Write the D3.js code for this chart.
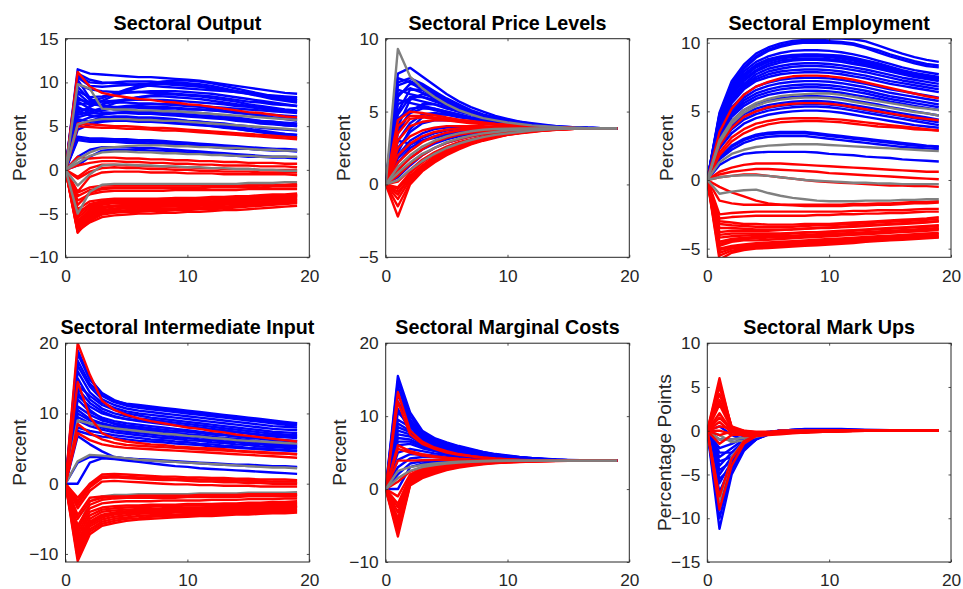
<!DOCTYPE html>
<html><head><meta charset="utf-8">
<script src="https://cdn.jsdelivr.net/npm/d3@7"></script>
<style>body{margin:0;background:#fff}svg{display:block}</style>
</head><body><svg id="c" width="963" height="589"></svg>
<script>
const periods = [0,1,2,3,4,5,6,7,8,9,10,11,12,13,14,15,16,17,18,19];
const xTicks = [0,10,20];
const titles = ["Sectoral Output","Sectoral Price Levels","Sectoral Employment","Sectoral Intermediate Input","Sectoral Marginal Costs","Sectoral Mark Ups"];
const yLabels = ["Percent","Percent","Percent","Percent","Percent","Percentage Points"];
const yDomains = [[-10,15],[-5,10],[-5.63,10.29],[-11.15,20],[-10,20],[-15,10]];
const yTicks = [[-10,-5,0,5,10,15],[-5,0,5,10],[-5,0,5,10],[-10,0,10,20],[-10,0,10,20],[-15,-10,-5,0,5,10]];

// ---------- Sectoral Output ----------
const outputBlue = [
[0,11.5,11.0,10.9,10.8,10.7,10.6,10.6,10.5,10.4,10.3,10.2,10.0,9.8,9.6,9.4,9.2,9.0,8.8,8.7],
[0,11.0,10.3,10.0,9.9,9.8,9.7,9.6,9.5,9.4,9.3,9.2,9.1,9.0,8.9,8.8,8.6,8.5,8.4,8.3],
[0,10.8,10.0,9.9,10.0,10.1,10.1,10.1,10.0,9.9,9.8,9.6,9.4,9.2,9.0,8.8,8.6,8.4,8.3,8.2],
[0,8.0,7.8,8.2,8.7,9.2,9.6,9.9,10.1,10.2,10.2,10.1,9.9,9.6,9.3,9.0,8.7,8.4,8.2,8.0],
[0,6.5,7.2,7.9,8.5,9.0,9.4,9.7,9.9,10.0,9.9,9.8,9.6,9.3,9.0,8.7,8.4,8.1,7.9,7.7],
[0,9.8,9.2,9.0,8.9,8.9,8.9,8.8,8.8,8.7,8.6,8.5,8.4,8.2,8.0,7.8,7.7,7.5,7.4,7.3],
[0,9.0,8.3,8.4,8.6,8.8,8.9,9.0,9.0,9.0,8.9,8.8,8.7,8.5,8.3,8.1,7.9,7.7,7.5,7.3],
[0,8.3,7.4,7.5,7.8,8.1,8.3,8.4,8.4,8.3,8.2,8.1,7.9,7.7,7.5,7.3,7.1,6.9,6.8,6.7],
[0,6.3,6.6,7.1,7.6,8.0,8.3,8.5,8.6,8.6,8.5,8.4,8.2,8.0,7.8,7.5,7.3,7.1,6.9,6.8],
[0,7.5,7.6,7.8,7.9,8.0,8.0,8.0,8.0,7.9,7.8,7.7,7.6,7.5,7.3,7.2,7.0,6.9,6.8,6.7],
[0,8.8,7.6,7.3,7.2,7.2,7.1,7.1,7.0,7.0,6.9,6.9,6.8,6.7,6.6,6.5,6.4,6.3,6.2,6.1],
[0,7.0,6.8,6.9,7.0,7.1,7.2,7.2,7.2,7.1,7.0,6.9,6.8,6.7,6.5,6.4,6.2,6.0,5.9,5.8],
[0,6.0,6.4,6.8,7.1,7.3,7.4,7.5,7.5,7.4,7.3,7.2,7.0,6.8,6.6,6.4,6.2,6.0,5.8,5.6],
[0,10.3,8.2,7.2,6.9,6.8,6.7,6.6,6.5,6.4,6.3,6.2,6.1,6.0,5.9,5.7,5.6,5.5,5.4,5.3],
[0,7.2,6.5,6.4,6.5,6.6,6.7,6.8,6.8,6.7,6.6,6.5,6.4,6.2,6.0,5.8,5.6,5.5,5.3,5.2],
[0,5.5,6.0,6.3,6.5,6.6,6.6,6.6,6.5,6.4,6.3,6.2,6.1,5.9,5.8,5.6,5.4,5.3,5.1,5.0],
[0,6.8,6.2,6.0,6.0,6.0,5.9,5.9,5.8,5.7,5.6,5.5,5.4,5.3,5.1,5.0,4.8,4.7,4.6,4.5],
[0,5.0,5.6,6.0,6.1,6.1,6.0,6.0,5.9,5.8,5.6,5.5,5.3,5.1,4.9,4.7,4.5,4.3,4.1,4.0],
[0,4.6,5.2,5.5,5.6,5.6,5.6,5.5,5.5,5.4,5.3,5.2,5.0,4.9,4.7,4.5,4.4,4.2,4.1,4.0],
[0,9.5,8.0,7.8,7.7,7.7,7.6,7.6,7.5,7.5,7.4,7.3,7.2,7.1,7.0,6.9,6.8,6.7,6.6,6.5],
[0,5.8,5.5,5.6,5.6,5.6,5.5,5.5,5.4,5.3,5.2,5.1,5.0,4.8,4.7,4.5,4.3,4.1,3.9,3.7],
[0,10.6,9.6,9.5,9.6,9.7,9.8,9.8,9.8,9.7,9.6,9.5,9.3,9.1,8.9,8.7,8.5,8.3,8.1,7.9],
[0,7.8,7.0,6.6,6.5,6.5,6.4,6.4,6.3,6.2,6.1,6.0,5.9,5.8,5.6,5.5,5.3,5.2,5.1,5.0],
[0,3.8,3.6,3.6,3.5,3.5,3.4,3.4,3.3,3.2,3.1,3.0,2.9,2.8,2.7,2.6,2.5,2.4,2.4,2.3],
[0,3.6,3.4,3.4,3.4,3.3,3.3,3.2,3.2,3.1,3.0,2.9,2.8,2.7,2.6,2.5,2.4,2.4,2.3,2.2],
[0,3.4,3.2,3.2,3.2,3.1,3.1,3.0,3.0,2.9,2.8,2.7,2.6,2.5,2.4,2.4,2.3,2.2,2.2,2.1],
[0,1.5,2.3,2.6,2.6,2.6,2.5,2.5,2.4,2.3,2.2,2.1,2.0,1.9,1.8,1.7,1.6,1.5,1.5,1.4],
[0,0.5,1.5,2.2,2.3,2.3,2.3,2.2,2.2,2.1,2.0,1.9,1.8,1.7,1.6,1.5,1.5,1.4,1.4,1.3]];
const outputRed = [
[0,11.2,9.5,8.8,8.5,8.3,8.1,8.0,7.8,7.7,7.5,7.4,7.2,7.0,6.8,6.6,6.5,6.3,6.1,6.0],
[0,5.3,5.2,5.1,5.0,5.0,4.9,4.8,4.8,4.7,4.6,4.5,4.4,4.3,4.2,4.1,4.0,3.9,3.8,3.7],
[0,5.0,4.9,4.8,4.8,4.7,4.7,4.6,4.5,4.5,4.4,4.3,4.2,4.1,4.0,3.9,3.8,3.7,3.6,3.5],
[0,1.5,1.3,1.4,1.4,1.3,1.3,1.2,1.2,1.1,1.1,1.0,1.0,0.9,0.9,0.8,0.8,0.8,0.7,0.7],
[0,0.5,0.8,1.0,1.0,0.9,0.9,0.8,0.8,0.7,0.7,0.6,0.6,0.5,0.5,0.5,0.4,0.4,0.4,0.3],
[0,-0.8,0.2,0.6,0.6,0.5,0.5,0.4,0.4,0.3,0.3,0.2,0.2,0.1,0.1,0.1,0.0,0.0,0.0,0.0],
[0,-1.0,-0.2,0.2,0.3,0.2,0.2,0.1,0.1,0.0,0.0,-0.1,-0.1,-0.2,-0.2,-0.2,-0.3,-0.3,-0.3,-0.3],
[0,-2.5,-0.8,-0.3,-0.2,-0.2,-0.2,-0.3,-0.3,-0.3,-0.4,-0.4,-0.4,-0.5,-0.5,-0.5,-0.5,-0.5,-0.5,-0.6],
[0,-2.6,-2.0,-1.8,-1.8,-1.8,-1.8,-1.8,-1.8,-1.8,-1.8,-1.8,-1.8,-1.8,-1.8,-1.7,-1.7,-1.7,-1.7,-1.6],
[0,-3.0,-2.3,-2.1,-2.0,-2.0,-2.0,-2.0,-2.0,-2.0,-2.0,-2.0,-1.9,-1.9,-1.9,-1.9,-1.8,-1.8,-1.8,-1.8],
[0,-4.0,-2.6,-2.2,-2.1,-2.1,-2.1,-2.1,-2.1,-2.1,-2.1,-2.1,-2.0,-2.0,-2.0,-2.0,-2.0,-1.9,-1.9,-1.9],
[0,-3.5,-2.8,-2.5,-2.4,-2.4,-2.4,-2.4,-2.4,-2.3,-2.3,-2.3,-2.3,-2.3,-2.3,-2.2,-2.2,-2.2,-2.2,-2.2],
[0,-5.0,-3.9,-3.6,-3.5,-3.4,-3.4,-3.4,-3.3,-3.3,-3.3,-3.2,-3.2,-3.2,-3.1,-3.0,-3.0,-2.9,-2.9,-2.8],
[0,-5.2,-4.0,-3.6,-3.5,-3.5,-3.5,-3.5,-3.5,-3.4,-3.4,-3.4,-3.3,-3.3,-3.2,-3.2,-3.1,-3.0,-2.9,-2.8],
[0,-4.8,-4.1,-3.8,-3.7,-3.6,-3.6,-3.6,-3.5,-3.5,-3.5,-3.4,-3.4,-3.3,-3.3,-3.2,-3.2,-3.1,-3.0,-3.0],
[0,-6.0,-4.5,-4.0,-3.8,-3.8,-3.8,-3.8,-3.7,-3.7,-3.7,-3.6,-3.6,-3.5,-3.5,-3.4,-3.3,-3.2,-3.1,-3.0],
[0,-6.2,-4.8,-4.3,-4.1,-4.0,-4.0,-3.9,-3.9,-3.8,-3.8,-3.7,-3.7,-3.6,-3.6,-3.5,-3.4,-3.3,-3.2,-3.2],
[0,-6.5,-5.0,-4.4,-4.2,-4.1,-4.1,-4.0,-4.0,-4.0,-3.9,-3.9,-3.8,-3.8,-3.7,-3.7,-3.6,-3.5,-3.4,-3.3],
[0,-6.3,-5.1,-4.6,-4.4,-4.3,-4.3,-4.2,-4.2,-4.1,-4.1,-4.0,-4.0,-3.9,-3.9,-3.8,-3.7,-3.6,-3.5,-3.5],
[0,-7.2,-5.5,-4.9,-4.7,-4.6,-4.5,-4.5,-4.4,-4.4,-4.3,-4.3,-4.2,-4.2,-4.1,-4.0,-3.9,-3.8,-3.7,-3.6],
[0,-6.6,-5.6,-5.0,-4.8,-4.7,-4.6,-4.6,-4.5,-4.5,-4.4,-4.4,-4.3,-4.3,-4.2,-4.1,-4.0,-3.9,-3.8,-3.7],
[0,-7.1,-5.8,-5.1,-4.9,-4.8,-4.8,-4.7,-4.7,-4.6,-4.6,-4.5,-4.5,-4.4,-4.3,-4.2,-4.1,-4.0,-3.9,-3.8],
[0,-7.0,-6.0,-5.4,-5.2,-5.1,-5.0,-5.0,-4.9,-4.9,-4.8,-4.8,-4.7,-4.6,-4.6,-4.5,-4.4,-4.3,-4.2,-4.1],
[0,-5.8,-4.6,-4.2,-4.1,-4.0,-4.0,-4.0,-3.9,-3.9,-3.9,-3.8,-3.8,-3.7,-3.6,-3.5,-3.4,-3.3,-3.2,-3.1],
[0,-4.5,-3.6,-3.4,-3.3,-3.3,-3.3,-3.3,-3.3,-3.2,-3.2,-3.2,-3.1,-3.1,-3.0,-3.0,-2.9,-2.8,-2.8,-2.7],
[0,-6.8,-5.3,-4.7,-4.5,-4.4,-4.3,-4.3,-4.2,-4.2,-4.1,-4.1,-4.0,-4.0,-3.9,-3.8,-3.7,-3.6,-3.5,-3.4],
[0,-5.5,-4.3,-3.9,-3.7,-3.7,-3.6,-3.6,-3.6,-3.5,-3.5,-3.5,-3.4,-3.4,-3.3,-3.3,-3.2,-3.1,-3.0,-2.9]];
const outputGray = [
[0,9.8,9.3,7.0,6.9,6.9,6.8,6.8,6.7,6.7,6.6,6.5,6.4,6.3,6.2,6.1,6.0,5.9,5.8,5.7],
[0,5.2,5.6,5.8,5.8,5.8,5.7,5.7,5.6,5.6,5.5,5.4,5.3,5.2,5.1,5.0,4.9,4.8,4.7,4.6],
[0,1.2,2.0,2.5,2.6,2.7,2.8,2.8,2.8,2.7,2.7,2.6,2.6,2.5,2.5,2.4,2.3,2.3,2.2,2.2],
[0,0.8,1.6,2.0,2.1,2.1,2.0,2.0,1.9,1.9,1.8,1.8,1.7,1.7,1.6,1.6,1.5,1.5,1.5,1.5],
[0,-1.8,-0.5,0.5,0.6,0.6,0.5,0.5,0.4,0.4,0.3,0.3,0.2,0.2,0.1,0.1,0.0,0.0,-0.1,-0.1],
[0,-5.0,-2.5,-1.7,-1.6,-1.6,-1.6,-1.6,-1.6,-1.6,-1.6,-1.6,-1.6,-1.6,-1.6,-1.5,-1.5,-1.5,-1.4,-1.4]];

// ---------- Sectoral Price Levels ----------
const priceBlue = [
[0,7.6,8.0,7.4,6.8,6.2,5.7,5.3,5.0,4.7,4.5,4.3,4.2,4.1,4.0,3.95,3.9,3.9,3.85,3.85],
[0,7.3,7.0,6.5,6.0,5.6,5.2,4.9,4.65,4.45,4.3,4.2,4.1,4.0,3.95,3.9,3.9,3.85,3.85,3.85],
[0,7.0,7.3,6.9,6.4,5.9,5.5,5.1,4.8,4.6,4.4,4.3,4.15,4.05,4.0,3.95,3.9,3.9,3.85,3.85],
[0,6.8,7.1,6.7,6.2,5.75,5.35,5.0,4.75,4.55,4.35,4.25,4.1,4.0,3.95,3.9,3.9,3.85,3.85,3.85],
[0,6.0,6.9,6.8,6.3,5.8,5.4,5.0,4.7,4.5,4.35,4.2,4.1,4.0,3.95,3.9,3.9,3.85,3.85,3.85],
[0,6.2,6.6,6.3,5.9,5.5,5.15,4.85,4.6,4.45,4.3,4.2,4.1,4.0,3.95,3.9,3.9,3.85,3.85,3.85],
[0,5.0,6.5,6.5,6.1,5.7,5.3,4.9,4.65,4.45,4.3,4.2,4.1,4.0,3.95,3.9,3.9,3.85,3.85,3.85],
[0,6.5,6.2,6.0,5.8,5.5,5.2,4.9,4.6,4.4,4.3,4.15,4.05,4.0,3.95,3.9,3.9,3.85,3.85,3.85],
[0,4.0,5.8,6.2,6.0,5.6,5.2,4.9,4.6,4.4,4.25,4.15,4.05,4.0,3.95,3.9,3.9,3.85,3.85,3.85],
[0,4.8,6.0,6.0,5.7,5.4,5.1,4.8,4.6,4.4,4.3,4.15,4.05,4.0,3.95,3.9,3.9,3.85,3.85,3.85],
[0,5.5,5.9,5.7,5.5,5.2,5.0,4.8,4.6,4.4,4.25,4.15,4.05,4.0,3.95,3.9,3.9,3.85,3.85,3.85],
[0,5.8,5.6,5.4,5.2,5.0,4.8,4.6,4.45,4.3,4.2,4.1,4.0,3.95,3.9,3.9,3.85,3.85,3.85,3.85],
[0,3.5,5.0,5.5,5.5,5.3,5.0,4.8,4.55,4.4,4.25,4.1,4.05,4.0,3.95,3.9,3.9,3.85,3.85,3.85],
[0,4.5,5.2,5.3,5.1,4.9,4.7,4.55,4.4,4.3,4.2,4.1,4.0,3.95,3.9,3.9,3.85,3.85,3.85,3.85],
[0,3.8,4.9,5.2,5.2,5.0,4.8,4.6,4.45,4.3,4.2,4.1,4.0,3.95,3.9,3.9,3.85,3.85,3.85,3.85],
[0,3.0,4.2,4.8,4.9,4.8,4.7,4.5,4.4,4.3,4.2,4.1,4.0,3.95,3.9,3.9,3.85,3.85,3.85,3.85],
[0,2.2,3.8,4.6,4.8,4.8,4.6,4.5,4.35,4.25,4.15,4.1,4.0,3.95,3.9,3.9,3.85,3.85,3.85,3.85],
[0,2.5,3.6,4.2,4.4,4.4,4.35,4.3,4.2,4.15,4.1,4.05,4.0,3.95,3.9,3.9,3.85,3.85,3.85,3.85],
[0,2.0,3.0,3.5,3.8,3.9,3.95,3.95,3.95,3.95,3.9,3.9,3.9,3.9,3.85,3.85,3.85,3.85,3.85,3.85],
[0,1.8,2.7,3.2,3.5,3.7,3.8,3.85,3.85,3.85,3.85,3.85,3.85,3.85,3.85,3.85,3.85,3.85,3.85,3.85],
[0,1.5,2.5,3.0,3.3,3.5,3.6,3.7,3.75,3.8,3.8,3.82,3.84,3.85,3.85,3.85,3.85,3.85,3.85,3.85],
[0,3.0,2.8,3.0,3.2,3.4,3.5,3.6,3.7,3.75,3.8,3.82,3.84,3.85,3.85,3.85,3.85,3.85,3.85,3.85],
[0,1.0,1.8,2.4,2.8,3.1,3.3,3.45,3.55,3.65,3.7,3.75,3.8,3.82,3.84,3.85,3.85,3.85,3.85,3.85],
[0,0.5,1.3,2.0,2.5,2.85,3.1,3.3,3.45,3.55,3.65,3.7,3.75,3.8,3.82,3.84,3.85,3.85,3.85,3.85]];
const priceRed = [
[0,4.4,5.0,4.9,4.75,4.6,4.45,4.35,4.25,4.15,4.1,4.05,4.0,3.95,3.9,3.9,3.85,3.85,3.85,3.85],
[0,4.0,4.7,4.7,4.6,4.5,4.4,4.3,4.2,4.12,4.07,4.02,3.97,3.93,3.9,3.88,3.86,3.85,3.85,3.85],
[0,3.5,4.5,4.6,4.5,4.4,4.3,4.2,4.15,4.1,4.05,4.0,3.95,3.9,3.9,3.85,3.85,3.85,3.85,3.85],
[0,3.0,4.0,4.3,4.4,4.4,4.35,4.3,4.2,4.15,4.1,4.05,4.0,3.95,3.9,3.9,3.85,3.85,3.85,3.85],
[0,2.5,3.3,3.7,3.9,4.0,4.0,4.0,4.0,3.95,3.95,3.9,3.9,3.9,3.85,3.85,3.85,3.85,3.85,3.85],
[0,2.0,2.8,3.3,3.6,3.75,3.85,3.9,3.9,3.9,3.9,3.9,3.9,3.85,3.85,3.85,3.85,3.85,3.85,3.85],
[0,1.5,2.3,2.9,3.3,3.55,3.7,3.8,3.85,3.85,3.85,3.85,3.85,3.85,3.85,3.85,3.85,3.85,3.85,3.85],
[0,1.0,1.8,2.4,2.9,3.2,3.4,3.55,3.65,3.7,3.75,3.8,3.82,3.84,3.85,3.85,3.85,3.85,3.85,3.85],
[0,0.6,1.4,2.0,2.5,2.85,3.1,3.3,3.45,3.55,3.65,3.7,3.75,3.8,3.82,3.84,3.85,3.85,3.85,3.85],
[0,0.2,1.0,1.7,2.2,2.6,2.9,3.1,3.3,3.45,3.55,3.65,3.7,3.75,3.8,3.82,3.84,3.85,3.85,3.85],
[0,-0.2,0.8,1.5,2.05,2.45,2.8,3.05,3.25,3.4,3.52,3.62,3.7,3.75,3.79,3.82,3.84,3.85,3.85,3.85],
[0,-0.3,0.6,1.3,1.9,2.3,2.7,2.95,3.15,3.35,3.5,3.6,3.68,3.74,3.78,3.82,3.84,3.85,3.85,3.85],
[0,-0.5,0.4,1.1,1.7,2.15,2.5,2.8,3.05,3.25,3.4,3.52,3.62,3.7,3.75,3.8,3.83,3.85,3.85,3.85],
[0,-0.7,0.5,1.2,1.8,2.25,2.6,2.9,3.1,3.3,3.45,3.55,3.65,3.72,3.77,3.8,3.83,3.85,3.85,3.85],
[0,-1.0,0.3,1.1,1.7,2.2,2.55,2.85,3.1,3.3,3.45,3.55,3.65,3.72,3.77,3.8,3.83,3.85,3.85,3.85],
[0,-1.5,0.1,1.0,1.6,2.1,2.5,2.8,3.05,3.25,3.42,3.54,3.64,3.71,3.76,3.8,3.83,3.85,3.85,3.85],
[0,-2.2,0.0,0.9,1.5,2.0,2.4,2.75,3.0,3.2,3.4,3.5,3.6,3.7,3.75,3.8,3.83,3.85,3.85,3.85]];
const priceGray = [
[0,9.3,7.4,6.6,6.0,5.5,5.1,4.8,4.55,4.4,4.25,4.15,4.05,4.0,3.95,3.9,3.9,3.85,3.85,3.85],
[0,1.2,2.0,2.6,3.0,3.3,3.5,3.65,3.75,3.8,3.82,3.84,3.85,3.85,3.85,3.85,3.85,3.85,3.85,3.85],
[0,0.8,1.5,2.1,2.5,2.9,3.15,3.35,3.5,3.6,3.7,3.75,3.8,3.82,3.84,3.85,3.85,3.85,3.85,3.85],
[0,0.3,1.0,1.6,2.1,2.5,2.8,3.05,3.25,3.4,3.5,3.6,3.7,3.75,3.8,3.82,3.84,3.85,3.85,3.85]];

// ---------- Sectoral Employment ----------
const employBlue = [
[0,4.9,7.2,8.4,9.2,9.65,9.95,10.13,10.2,10.25,10.3,10.3,10.25,10.1,9.8,9.5,9.2,8.95,8.75,8.6],
[0,4.8,7.0,8.2,9.0,9.5,9.8,10.0,10.1,10.1,10.1,10.05,9.95,9.7,9.45,9.15,8.9,8.65,8.45,8.35],
[0,4.7,6.9,8.1,8.9,9.4,9.7,9.9,10.0,10.0,10.0,9.95,9.85,9.6,9.3,9.0,8.75,8.5,8.3,8.2],
[0,4.6,6.7,7.9,8.6,9.0,9.25,9.4,9.45,9.45,9.4,9.3,9.15,8.95,8.7,8.45,8.2,8.0,7.85,7.7],
[0,4.5,6.6,7.7,8.4,8.8,9.0,9.1,9.15,9.15,9.1,9.05,8.9,8.7,8.5,8.25,8.0,7.8,7.65,7.5],
[0,4.45,6.5,7.6,8.3,8.7,8.9,9.05,9.1,9.1,9.05,8.95,8.8,8.6,8.4,8.15,7.95,7.75,7.6,7.45],
[0,4.4,6.4,7.5,8.2,8.6,8.85,8.95,9.0,9.0,8.95,8.85,8.7,8.5,8.3,8.1,7.9,7.7,7.55,7.4],
[0,4.3,6.3,7.35,8.0,8.45,8.7,8.8,8.85,8.85,8.8,8.7,8.55,8.4,8.2,8.0,7.8,7.6,7.45,7.3],
[0,4.2,6.2,7.2,7.9,8.3,8.55,8.7,8.75,8.75,8.7,8.6,8.45,8.3,8.1,7.9,7.7,7.5,7.35,7.2],
[0,4.1,6.0,7.0,7.7,8.1,8.3,8.45,8.5,8.5,8.45,8.35,8.2,8.05,7.85,7.65,7.45,7.3,7.15,7.0],
[0,4.0,5.9,6.9,7.5,7.9,8.1,8.25,8.3,8.3,8.25,8.15,8.0,7.85,7.65,7.45,7.25,7.1,6.95,6.8],
[0,3.9,5.75,6.75,7.35,7.7,7.9,8.0,8.05,8.05,8.0,7.9,7.75,7.6,7.4,7.2,7.05,6.9,6.75,6.6],
[0,3.8,5.6,6.6,7.2,7.5,7.7,7.8,7.85,7.85,7.8,7.7,7.55,7.4,7.2,7.0,6.85,6.7,6.55,6.4],
[0,3.6,5.3,6.2,6.8,7.1,7.3,7.4,7.45,7.45,7.4,7.3,7.15,7.0,6.8,6.6,6.45,6.3,6.15,6.0],
[0,3.45,5.1,6.0,6.55,6.85,7.05,7.15,7.2,7.2,7.15,7.05,6.9,6.75,6.55,6.35,6.2,6.05,5.9,5.75],
[0,3.3,4.9,5.8,6.3,6.6,6.8,6.9,6.95,6.95,6.9,6.8,6.65,6.5,6.3,6.1,5.95,5.8,5.65,5.5],
[0,3.2,4.75,5.6,6.1,6.4,6.6,6.7,6.75,6.75,6.7,6.6,6.45,6.3,6.1,5.9,5.75,5.6,5.45,5.3],
[0,3.1,4.6,5.4,5.9,6.2,6.35,6.45,6.5,6.5,6.45,6.35,6.2,6.05,5.9,5.7,5.55,5.4,5.25,5.1],
[0,2.9,4.3,5.1,5.55,5.8,5.95,6.05,6.1,6.1,6.05,5.95,5.8,5.65,5.5,5.3,5.15,5.0,4.85,4.7],
[0,2.7,4.0,4.8,5.2,5.45,5.6,5.7,5.75,5.75,5.7,5.6,5.45,5.3,5.15,5.0,4.85,4.7,4.55,4.4],
[0,2.6,3.85,4.6,5.0,5.25,5.4,5.5,5.55,5.55,5.5,5.4,5.25,5.1,4.95,4.8,4.65,4.5,4.35,4.2],
[0,2.5,3.7,4.4,4.8,5.05,5.2,5.3,5.35,5.35,5.3,5.2,5.05,4.9,4.75,4.6,4.45,4.3,4.15,4.0],
[0,2.3,3.4,4.1,4.5,4.75,4.9,5.0,5.05,5.05,5.0,4.9,4.75,4.6,4.45,4.3,4.15,4.0,3.9,3.8],
[0,1.65,2.5,3.0,3.3,3.45,3.5,3.5,3.5,3.4,3.3,3.2,3.1,3.0,2.9,2.8,2.7,2.6,2.5,2.45],
[0,1.6,2.4,2.9,3.2,3.35,3.4,3.4,3.4,3.3,3.2,3.1,3.0,2.9,2.8,2.7,2.6,2.5,2.45,2.4],
[0,1.5,2.2,2.7,3.0,3.15,3.2,3.2,3.2,3.1,3.0,2.9,2.8,2.7,2.6,2.5,2.4,2.35,2.3,2.25],
[0,1.1,1.6,1.9,2.0,2.05,2.05,2.05,2.05,2.0,1.9,1.85,1.8,1.7,1.65,1.6,1.5,1.45,1.4,1.35]];
const employRed = [
[0,3.5,5.2,6.2,6.8,7.15,7.4,7.55,7.6,7.6,7.55,7.45,7.3,7.1,6.9,6.7,6.5,6.3,6.1,5.95],
[0,2.5,3.8,4.6,5.0,5.3,5.45,5.55,5.6,5.6,5.55,5.45,5.3,5.15,5.0,4.85,4.7,4.55,4.45,4.35],
[0,2.0,3.1,3.7,4.1,4.3,4.45,4.5,4.5,4.5,4.45,4.4,4.3,4.2,4.1,4.0,3.9,3.8,3.7,3.6],
[0,1.8,2.8,3.4,3.8,4.05,4.2,4.25,4.3,4.3,4.25,4.2,4.1,4.0,3.9,3.85,3.8,3.7,3.65,3.6],
[0,0.6,0.9,1.1,1.2,1.2,1.2,1.15,1.1,1.05,1.0,0.95,0.9,0.85,0.8,0.75,0.7,0.65,0.6,0.6],
[0,0.4,0.6,0.7,0.8,0.8,0.75,0.7,0.65,0.6,0.5,0.45,0.4,0.35,0.3,0.25,0.2,0.15,0.1,0.05],
[0,0.2,0.3,0.4,0.4,0.3,0.2,0.1,0.0,-0.1,-0.15,-0.2,-0.25,-0.3,-0.35,-0.4,-0.4,-0.45,-0.45,-0.5],
[0,-0.5,-0.9,-1.2,-1.5,-1.7,-1.8,-1.85,-1.9,-1.9,-1.9,-1.9,-1.85,-1.85,-1.8,-1.8,-1.75,-1.7,-1.7,-1.65],
[0,-1.5,-1.7,-1.8,-1.8,-1.8,-1.8,-1.8,-1.8,-1.8,-1.8,-1.8,-1.75,-1.75,-1.7,-1.7,-1.65,-1.6,-1.6,-1.55],
[0,-2.5,-2.4,-2.35,-2.3,-2.3,-2.3,-2.3,-2.3,-2.3,-2.3,-2.3,-2.25,-2.25,-2.2,-2.2,-2.2,-2.15,-2.1,-2.1],
[0,-2.8,-2.7,-2.65,-2.6,-2.6,-2.6,-2.6,-2.6,-2.55,-2.55,-2.5,-2.5,-2.45,-2.45,-2.4,-2.4,-2.35,-2.3,-2.3],
[0,-3.0,-3.1,-3.2,-3.2,-3.25,-3.25,-3.25,-3.2,-3.2,-3.2,-3.15,-3.1,-3.05,-3.0,-2.95,-2.9,-2.85,-2.8,-2.7],
[0,-3.2,-3.3,-3.35,-3.4,-3.4,-3.4,-3.4,-3.35,-3.3,-3.3,-3.25,-3.2,-3.15,-3.1,-3.05,-3.0,-2.95,-2.9,-2.85],
[0,-3.5,-3.5,-3.55,-3.6,-3.6,-3.6,-3.6,-3.55,-3.5,-3.5,-3.45,-3.4,-3.35,-3.3,-3.25,-3.2,-3.15,-3.1,-3.0],
[0,-3.8,-3.7,-3.7,-3.7,-3.7,-3.65,-3.6,-3.55,-3.5,-3.45,-3.4,-3.35,-3.3,-3.25,-3.2,-3.15,-3.1,-3.05,-3.0],
[0,-4.0,-3.9,-3.9,-3.9,-3.9,-3.9,-3.85,-3.8,-3.8,-3.75,-3.7,-3.65,-3.6,-3.55,-3.5,-3.45,-3.4,-3.35,-3.3],
[0,-4.2,-4.1,-4.05,-4.0,-4.0,-3.95,-3.9,-3.85,-3.8,-3.8,-3.75,-3.7,-3.65,-3.6,-3.55,-3.5,-3.45,-3.4,-3.35],
[0,-4.5,-4.3,-4.2,-4.15,-4.1,-4.1,-4.05,-4.0,-3.95,-3.9,-3.9,-3.85,-3.8,-3.75,-3.7,-3.65,-3.6,-3.55,-3.5],
[0,-4.65,-4.4,-4.3,-4.25,-4.2,-4.2,-4.15,-4.1,-4.05,-4.0,-3.95,-3.9,-3.85,-3.8,-3.75,-3.7,-3.65,-3.6,-3.55],
[0,-4.8,-4.5,-4.4,-4.4,-4.35,-4.3,-4.25,-4.2,-4.15,-4.1,-4.05,-4.0,-3.95,-3.9,-3.85,-3.8,-3.75,-3.7,-3.65],
[0,-5.0,-4.8,-4.7,-4.6,-4.55,-4.5,-4.45,-4.4,-4.35,-4.3,-4.25,-4.2,-4.15,-4.1,-4.05,-4.0,-3.95,-3.9,-3.85],
[0,-5.1,-4.9,-4.8,-4.7,-4.65,-4.6,-4.55,-4.5,-4.45,-4.4,-4.35,-4.3,-4.25,-4.2,-4.15,-4.1,-4.05,-4.0,-3.95],
[0,-5.3,-5.0,-4.9,-4.8,-4.75,-4.7,-4.65,-4.6,-4.55,-4.5,-4.45,-4.4,-4.35,-4.3,-4.25,-4.2,-4.15,-4.1,-4.05],
[0,-5.5,-5.15,-5.0,-4.9,-4.85,-4.8,-4.75,-4.7,-4.65,-4.6,-4.55,-4.5,-4.45,-4.4,-4.35,-4.3,-4.25,-4.2,-4.15],
[0,-5.8,-5.3,-5.1,-5.0,-4.95,-4.9,-4.85,-4.8,-4.75,-4.7,-4.65,-4.6,-4.5,-4.45,-4.4,-4.35,-4.3,-4.25,-4.2]];
const employGray = [
[0,2.9,4.3,5.1,5.6,5.9,6.1,6.2,6.25,6.3,6.3,6.2,6.05,5.9,5.75,5.6,5.45,5.3,5.2,5.1],
[0,2.7,4.1,4.9,5.4,5.7,5.85,5.95,6.0,6.0,5.95,5.85,5.7,5.55,5.4,5.25,5.1,4.95,4.85,4.7],
[0,1.3,1.9,2.2,2.4,2.5,2.55,2.6,2.6,2.6,2.55,2.5,2.45,2.4,2.35,2.3,2.25,2.2,2.15,2.1],
[0,0.2,0.3,0.35,0.35,0.3,0.2,0.1,0.0,-0.05,-0.1,-0.15,-0.2,-0.2,-0.25,-0.25,-0.3,-0.3,-0.3,-0.3],
[0,-1.0,-0.85,-0.75,-0.7,-0.95,-1.15,-1.3,-1.4,-1.5,-1.55,-1.55,-1.55,-1.5,-1.5,-1.5,-1.45,-1.45,-1.4,-1.4]];

// ---------- Sectoral Intermediate Input ----------
const inputBlue = [
[0,19.0,15.0,12.8,11.8,11.4,11.2,11.0,10.8,10.6,10.4,10.2,10.0,9.8,9.6,9.4,9.2,9.0,8.8,8.6],
[0,18.5,14.8,12.9,11.9,11.3,11.0,10.8,10.6,10.4,10.2,10.0,9.8,9.6,9.4,9.2,9.0,8.8,8.6,8.5],
[0,17.5,14.2,12.5,11.6,11.1,10.8,10.6,10.4,10.2,10.0,9.8,9.6,9.4,9.2,9.0,8.8,8.6,8.4,8.3],
[0,16.8,13.8,12.0,11.2,10.7,10.4,10.2,10.0,9.8,9.6,9.4,9.2,9.0,8.8,8.6,8.4,8.2,8.1,8.0],
[0,16.0,13.0,11.5,10.8,10.3,10.0,9.8,9.6,9.4,9.2,9.0,8.8,8.6,8.4,8.2,8.0,7.8,7.7,7.6],
[0,15.0,12.0,10.7,10.0,9.6,9.3,9.1,8.9,8.7,8.5,8.3,8.1,7.9,7.7,7.5,7.3,7.1,7.0,6.9],
[0,14.0,12.5,11.2,10.5,10.0,9.7,9.4,9.2,9.0,8.8,8.6,8.4,8.2,8.0,7.8,7.6,7.4,7.3,7.2],
[0,13.5,11.5,10.3,9.6,9.2,8.9,8.7,8.5,8.3,8.1,7.9,7.7,7.5,7.3,7.1,6.9,6.7,6.6,6.5],
[0,13.0,10.5,9.2,8.5,8.1,7.8,7.6,7.4,7.2,7.0,6.8,6.6,6.4,6.2,6.0,5.8,5.6,5.4,5.3],
[0,12.5,11.0,10.0,9.5,9.2,9.0,8.8,8.6,8.4,8.2,8.0,7.8,7.6,7.4,7.2,7.0,6.9,6.8,6.7],
[0,12.0,10.2,9.4,8.9,8.6,8.4,8.2,8.0,7.8,7.6,7.4,7.2,7.0,6.8,6.7,6.5,6.3,6.2,6.1],
[0,11.0,9.8,9.0,8.6,8.3,8.1,7.9,7.7,7.5,7.4,7.2,7.0,6.9,6.7,6.5,6.4,6.2,6.1,6.0],
[0,10.5,9.2,8.6,8.2,8.0,7.8,7.6,7.4,7.2,7.0,6.9,6.7,6.5,6.4,6.2,6.0,5.9,5.8,5.7],
[0,10.0,9.0,8.4,8.0,7.7,7.5,7.3,7.1,6.9,6.8,6.6,6.4,6.3,6.1,6.0,5.8,5.7,5.6,5.5],
[0,9.5,8.6,8.0,7.6,7.4,7.2,7.0,6.8,6.6,6.5,6.3,6.2,6.0,5.9,5.7,5.6,5.4,5.3,5.2],
[0,9.0,8.2,7.7,7.3,7.1,6.9,6.7,6.5,6.4,6.2,6.1,5.9,5.8,5.6,5.5,5.3,5.2,5.1,5.0],
[0,8.0,7.5,7.2,6.9,6.7,6.5,6.3,6.2,6.0,5.9,5.7,5.6,5.4,5.3,5.1,5.0,4.9,4.8,4.7],
[0,7.5,7.0,6.7,6.5,6.3,6.1,6.0,5.9,5.7,5.6,5.5,5.3,5.2,5.1,5.0,4.9,4.8,4.7,4.6],
[0,6.8,5.6,4.6,3.8,3.6,3.5,3.4,3.3,3.2,3.1,3.0,2.9,2.8,2.7,2.7,2.6,2.5,2.5,2.4],
[0,3.0,3.8,3.8,3.7,3.6,3.4,3.3,3.2,3.1,3.0,2.9,2.8,2.7,2.6,2.5,2.5,2.4,2.4,2.3],
[0,0.0,3.0,3.6,3.5,3.3,3.1,2.9,2.7,2.5,2.4,2.2,2.1,2.0,1.9,1.8,1.7,1.6,1.5,1.4]];
const inputRed = [
[0,20.0,15.5,11.8,10.5,9.8,9.3,8.9,8.6,8.3,8.0,7.8,7.5,7.3,7.0,6.8,6.6,6.4,6.2,6.0],
[0,14.5,9.5,7.2,6.4,6.0,5.8,5.6,5.5,5.3,5.2,5.1,5.0,4.9,4.7,4.6,4.5,4.4,4.3,4.2],
[0,8.5,7.2,6.3,5.8,5.5,5.4,5.3,5.2,5.1,5.0,4.9,4.8,4.7,4.6,4.5,4.4,4.3,4.3,4.2],
[0,7.2,6.2,5.6,5.3,5.1,5.0,4.9,4.8,4.7,4.6,4.5,4.4,4.3,4.2,4.1,4.0,3.9,3.8,3.7],
[0,-2.0,0.0,1.3,1.4,1.3,1.2,1.1,1.0,1.0,0.9,0.9,0.8,0.8,0.7,0.7,0.6,0.6,0.6,0.5],
[0,-2.5,-0.2,1.0,1.1,1.0,0.9,0.8,0.8,0.7,0.7,0.6,0.6,0.5,0.5,0.4,0.4,0.3,0.3,0.3],
[0,-3.0,-0.5,0.8,0.9,0.8,0.7,0.6,0.5,0.5,0.4,0.3,0.3,0.2,0.2,0.1,0.1,0.0,0.0,0.0],
[0,-3.5,-1.0,0.3,0.4,0.3,0.2,0.1,0.0,-0.1,-0.1,-0.2,-0.2,-0.3,-0.3,-0.3,-0.4,-0.4,-0.4,-0.4],
[0,-4.5,-2.0,-1.8,-1.8,-1.8,-1.7,-1.7,-1.7,-1.7,-1.7,-1.6,-1.6,-1.6,-1.6,-1.5,-1.5,-1.5,-1.5,-1.5],
[0,-5.0,-2.5,-2.0,-1.9,-1.9,-1.8,-1.8,-1.8,-1.8,-1.8,-1.7,-1.7,-1.7,-1.7,-1.6,-1.6,-1.6,-1.6,-1.6],
[0,-6.0,-3.0,-2.3,-2.1,-2.0,-2.0,-2.0,-2.0,-2.0,-1.9,-1.9,-1.9,-1.9,-1.9,-1.8,-1.8,-1.8,-1.8,-1.8],
[0,-6.5,-3.5,-2.8,-2.6,-2.5,-2.5,-2.5,-2.4,-2.4,-2.4,-2.4,-2.3,-2.3,-2.3,-2.2,-2.2,-2.2,-2.1,-2.1],
[0,-7.0,-4.0,-3.4,-3.2,-3.1,-3.1,-3.0,-3.0,-3.0,-2.9,-2.9,-2.9,-2.8,-2.8,-2.7,-2.7,-2.6,-2.6,-2.5],
[0,-7.5,-4.5,-3.7,-3.5,-3.4,-3.3,-3.3,-3.2,-3.2,-3.1,-3.1,-3.1,-3.0,-3.0,-2.9,-2.9,-2.8,-2.8,-2.7],
[0,-8.0,-5.0,-4.0,-3.8,-3.7,-3.6,-3.6,-3.5,-3.5,-3.4,-3.4,-3.3,-3.3,-3.2,-3.2,-3.1,-3.0,-3.0,-2.9],
[0,-8.5,-5.4,-4.4,-4.1,-3.9,-3.8,-3.8,-3.7,-3.7,-3.6,-3.6,-3.5,-3.5,-3.4,-3.4,-3.3,-3.2,-3.2,-3.1],
[0,-8.8,-5.6,-4.6,-4.3,-4.1,-4.0,-3.9,-3.9,-3.8,-3.8,-3.7,-3.7,-3.6,-3.5,-3.5,-3.4,-3.4,-3.3,-3.2],
[0,-9.0,-5.8,-4.8,-4.4,-4.2,-4.1,-4.0,-4.0,-3.9,-3.9,-3.8,-3.8,-3.7,-3.6,-3.6,-3.5,-3.4,-3.4,-3.3],
[0,-9.5,-6.1,-5.1,-4.7,-4.5,-4.3,-4.2,-4.2,-4.1,-4.1,-4.0,-4.0,-3.9,-3.8,-3.8,-3.7,-3.6,-3.6,-3.5],
[0,-10.0,-6.5,-5.4,-5.0,-4.8,-4.6,-4.5,-4.4,-4.4,-4.3,-4.2,-4.2,-4.1,-4.0,-4.0,-3.9,-3.8,-3.8,-3.7],
[0,-10.5,-6.8,-5.7,-5.3,-5.0,-4.9,-4.7,-4.6,-4.6,-4.5,-4.4,-4.4,-4.3,-4.2,-4.2,-4.1,-4.0,-4.0,-3.9],
[0,-11.0,-7.2,-6.0,-5.6,-5.3,-5.1,-5.0,-4.9,-4.8,-4.7,-4.6,-4.6,-4.5,-4.4,-4.4,-4.3,-4.2,-4.2,-4.1]];
const inputGray = [
[0,9.0,8.6,8.2,7.9,7.7,7.5,7.3,7.1,7.0,6.8,6.7,6.5,6.4,6.2,6.1,6.0,5.9,5.8,5.7],
[0,3.2,4.1,4.0,3.8,3.6,3.4,3.3,3.2,3.1,3.0,2.9,2.8,2.7,2.6,2.5,2.4,2.3,2.3,2.2],
[0,-2.5,0.0,1.0,1.0,0.9,0.8,0.7,0.6,0.6,0.5,0.4,0.4,0.3,0.3,0.2,0.2,0.1,0.1,0.1],
[0,-6.5,-2.5,-1.8,-1.6,-1.6,-1.5,-1.5,-1.5,-1.5,-1.5,-1.4,-1.4,-1.4,-1.4,-1.3,-1.3,-1.3,-1.3,-1.2]];

// ---------- Sectoral Marginal Costs ----------
const costBlue = [
[0,15.5,10.5,8.0,7.0,6.4,5.9,5.5,5.1,4.8,4.6,4.4,4.25,4.15,4.05,4.0,3.95,3.9,3.9,3.9],
[0,14.8,10.0,7.8,6.9,6.3,5.8,5.4,5.05,4.75,4.55,4.38,4.22,4.12,4.03,3.97,3.93,3.9,3.9,3.9],
[0,14.0,9.5,7.6,6.8,6.2,5.7,5.3,5.0,4.7,4.5,4.35,4.2,4.1,4.0,3.95,3.9,3.9,3.9,3.9],
[0,13.0,9.2,7.5,6.7,6.1,5.65,5.25,4.95,4.7,4.5,4.33,4.2,4.1,4.0,3.95,3.9,3.9,3.9,3.9],
[0,12.0,9.0,7.3,6.6,6.0,5.6,5.2,4.9,4.65,4.45,4.3,4.2,4.1,4.0,3.95,3.9,3.9,3.9,3.9],
[0,11.0,8.0,7.0,6.3,5.8,5.4,5.0,4.75,4.55,4.4,4.25,4.15,4.05,4.0,3.95,3.9,3.9,3.9,3.9],
[0,10.5,8.8,7.2,6.4,5.9,5.5,5.1,4.8,4.6,4.4,4.3,4.15,4.05,4.0,3.95,3.9,3.9,3.9,3.9],
[0,9.5,8.5,7.0,6.2,5.7,5.3,5.0,4.75,4.55,4.4,4.25,4.15,4.05,4.0,3.95,3.9,3.9,3.9,3.9],
[0,9.0,8.0,6.8,6.1,5.6,5.2,4.9,4.7,4.5,4.35,4.2,4.1,4.0,3.95,3.9,3.9,3.9,3.9,3.9],
[0,8.5,7.8,6.6,6.0,5.5,5.1,4.85,4.65,4.45,4.3,4.18,4.08,4.0,3.95,3.9,3.9,3.9,3.9,3.9],
[0,8.0,7.5,6.4,5.8,5.4,5.0,4.8,4.6,4.4,4.3,4.15,4.05,4.0,3.95,3.9,3.9,3.9,3.9,3.9],
[0,7.5,7.2,6.2,5.6,5.2,4.9,4.7,4.5,4.4,4.25,4.15,4.05,4.0,3.95,3.9,3.9,3.9,3.9,3.9],
[0,7.0,6.8,6.0,5.5,5.1,4.85,4.65,4.5,4.35,4.2,4.1,4.05,4.0,3.95,3.9,3.9,3.9,3.9,3.9],
[0,6.5,6.5,5.8,5.35,5.0,4.78,4.58,4.42,4.3,4.18,4.08,4.02,3.97,3.93,3.9,3.9,3.9,3.9,3.9],
[0,6.0,6.2,5.6,5.2,4.9,4.7,4.5,4.35,4.25,4.15,4.05,4.0,3.95,3.9,3.9,3.9,3.9,3.9,3.9],
[0,5.0,5.5,5.2,4.9,4.7,4.5,4.35,4.25,4.15,4.1,4.05,4.0,3.95,3.9,3.9,3.9,3.9,3.9,3.9],
[0,4.0,4.8,4.7,4.6,4.45,4.35,4.25,4.15,4.1,4.05,4.0,3.95,3.9,3.9,3.9,3.9,3.9,3.9,3.9],
[0,3.0,4.2,4.4,4.4,4.3,4.2,4.12,4.05,4.0,3.96,3.93,3.9,3.9,3.9,3.9,3.9,3.9,3.9,3.9],
[0,2.0,3.5,3.8,3.9,3.9,3.9,3.9,3.9,3.9,3.9,3.9,3.9,3.9,3.9,3.9,3.9,3.9,3.9,3.9],
[0,0.0,3.0,3.5,3.7,3.8,3.85,3.9,3.9,3.9,3.9,3.9,3.9,3.9,3.9,3.9,3.9,3.9,3.9,3.9]];
const costRed = [
[0,13.3,8.0,6.5,5.7,5.2,4.8,4.55,4.35,4.2,4.1,4.0,3.95,3.9,3.9,3.9,3.9,3.9,3.9,3.9],
[0,12.0,7.5,6.2,5.5,5.0,4.7,4.5,4.3,4.15,4.05,4.0,3.95,3.9,3.9,3.9,3.9,3.9,3.9,3.9],
[0,6.0,5.2,4.8,4.5,4.3,4.15,4.05,4.0,3.95,3.9,3.9,3.9,3.9,3.9,3.9,3.9,3.9,3.9,3.9],
[0,5.5,5.0,4.6,4.4,4.25,4.1,4.0,3.95,3.9,3.9,3.9,3.9,3.9,3.9,3.9,3.9,3.9,3.9,3.9],
[0,3.9,3.9,3.95,4.0,4.0,3.95,3.9,3.9,3.9,3.9,3.9,3.9,3.9,3.9,3.9,3.9,3.9,3.9,3.9],
[0,1.0,2.4,3.0,3.35,3.55,3.68,3.76,3.82,3.86,3.88,3.9,3.9,3.9,3.9,3.9,3.9,3.9,3.9,3.9],
[0,-1.0,2.0,2.8,3.2,3.45,3.6,3.7,3.77,3.82,3.85,3.87,3.89,3.9,3.9,3.9,3.9,3.9,3.9,3.9],
[0,-2.0,1.7,2.6,3.05,3.32,3.52,3.65,3.73,3.79,3.83,3.86,3.88,3.9,3.9,3.9,3.9,3.9,3.9,3.9],
[0,-2.5,1.5,2.4,2.9,3.2,3.45,3.6,3.7,3.76,3.8,3.84,3.86,3.88,3.9,3.9,3.9,3.9,3.9,3.9],
[0,-3.2,1.3,2.2,2.8,3.1,3.38,3.55,3.66,3.74,3.79,3.83,3.86,3.88,3.9,3.9,3.9,3.9,3.9,3.9],
[0,-4.0,1.2,2.1,2.7,3.05,3.3,3.48,3.6,3.7,3.76,3.8,3.84,3.86,3.88,3.9,3.9,3.9,3.9,3.9],
[0,-4.5,1.1,2.0,2.6,3.0,3.26,3.45,3.58,3.68,3.75,3.8,3.84,3.86,3.88,3.9,3.9,3.9,3.9,3.9],
[0,-5.0,1.0,1.95,2.55,2.95,3.22,3.42,3.55,3.66,3.73,3.78,3.82,3.85,3.87,3.89,3.9,3.9,3.9,3.9],
[0,-5.5,0.8,1.8,2.4,2.85,3.15,3.35,3.5,3.62,3.7,3.76,3.8,3.84,3.86,3.88,3.9,3.9,3.9,3.9],
[0,-6.0,0.6,1.6,2.25,2.7,3.05,3.28,3.45,3.58,3.67,3.74,3.79,3.83,3.86,3.88,3.89,3.9,3.9,3.9],
[0,-6.5,0.5,1.5,2.1,2.6,2.95,3.2,3.4,3.55,3.65,3.72,3.78,3.82,3.85,3.87,3.88,3.9,3.9,3.9]];
const costGray = [
[0,1.5,2.5,3.0,3.3,3.5,3.65,3.75,3.8,3.85,3.88,3.9,3.9,3.9,3.9,3.9,3.9,3.9,3.9,3.9],
[0,2.5,3.0,3.3,3.5,3.65,3.75,3.8,3.85,3.88,3.9,3.9,3.9,3.9,3.9,3.9,3.9,3.9,3.9,3.9]];

// ---------- Sectoral Mark Ups ----------
const markupBlue = [
[0,-11.2,-5.0,-2.3,-1.0,-0.3,0.0,0.1,0.2,0.2,0.2,0.2,0.15,0.1,0.1,0.05,0.05,0,0,0],
[0,-10.0,-4.5,-2.0,-0.9,-0.3,0.0,0.1,0.15,0.15,0.15,0.15,0.1,0.1,0.05,0.05,0,0,0,0],
[0,-9.0,-4.3,-1.9,-0.85,-0.3,0,0.1,0.15,0.15,0.15,0.1,0.1,0.05,0.05,0,0,0,0,0],
[0,-8.0,-4.0,-1.8,-0.8,-0.3,0.0,0.1,0.1,0.1,0.1,0.1,0.1,0.05,0.05,0,0,0,0,0],
[0,-7.0,-3.8,-1.7,-0.75,-0.25,0,0.05,0.1,0.1,0.1,0.1,0.05,0.05,0,0,0,0,0,0],
[0,-6.0,-3.5,-1.6,-0.7,-0.2,0.0,0.05,0.1,0.1,0.1,0.1,0.05,0.05,0,0,0,0,0,0],
[0,-5.5,-4.2,-2.2,-1.0,-0.4,-0.1,0.05,0.1,0.1,0.1,0.05,0.05,0,0,0,0,0,0,0],
[0,-5.0,-3.0,-1.4,-0.6,-0.2,0.0,0.05,0.1,0.1,0.1,0.05,0.05,0,0,0,0,0,0,0],
[0,-4.5,-3.5,-2.0,-1.0,-0.45,-0.15,0,0.05,0.05,0.05,0,0,0,0,0,0,0,0,0],
[0,-4.0,-2.5,-1.2,-0.5,-0.2,0,0.05,0.05,0.05,0.05,0.05,0,0,0,0,0,0,0,0],
[0,-3.5,-3.0,-1.8,-0.9,-0.4,-0.1,0,0.05,0.05,0.05,0,0,0,0,0,0,0,0,0],
[0,-3.0,-2.0,-1.0,-0.5,-0.2,0,0,0.05,0.05,0.05,0,0,0,0,0,0,0,0,0],
[0,-2.5,-2.5,-1.5,-0.8,-0.35,-0.1,0,0,0,0,0,0,0,0,0,0,0,0,0],
[0,-2.0,-1.5,-0.8,-0.4,-0.1,0,0,0,0,0,0,0,0,0,0,0,0,0,0],
[0,-1.0,-1.0,-0.7,-0.4,-0.2,0,0,0,0,0,0,0,0,0,0,0,0,0,0],
[0,0.5,-0.5,-1.0,-0.6,-0.3,-0.1,0,0,0,0,0,0,0,0,0,0,0,0,0]];
const markupGray = [
[0,-8.0,-3.0,-1.2,-0.5,-0.2,0,0,0,0,0,0,0,0,0,0,0,0,0,0],
[0,-1.0,-1.0,-0.8,-0.6,-0.4,-0.25,-0.15,-0.1,-0.05,0,0,0,0,0,0,0,0,0,0],
[0,-0.5,-1.3,-1.1,-0.7,-0.4,-0.2,-0.1,-0.05,0,0,0,0,0,0,0,0,0,0,0]];
const markupRed = [
[0,6.0,0.2,-0.2,-0.3,-0.3,-0.3,-0.25,-0.2,-0.15,-0.1,-0.1,-0.05,0,0,0,0,0,0,0],
[0,5.5,0.4,-0.1,-0.25,-0.25,-0.2,-0.2,-0.15,-0.1,-0.1,-0.05,0,0,0,0,0,0,0,0],
[0,5.0,0.5,0.0,-0.2,-0.2,-0.2,-0.2,-0.15,-0.1,-0.1,-0.05,-0.05,0,0,0,0,0,0,0],
[0,4.2,0.4,-0.1,-0.2,-0.2,-0.2,-0.15,-0.1,-0.1,-0.05,0,0,0,0,0,0,0,0,0],
[0,3.5,0.3,-0.1,-0.2,-0.2,-0.2,-0.15,-0.1,-0.1,-0.05,-0.05,0,0,0,0,0,0,0,0],
[0,3.0,0.2,-0.15,-0.25,-0.25,-0.2,-0.15,-0.1,-0.1,-0.05,0,0,0,0,0,0,0,0,0],
[0,2.0,0.0,-0.2,-0.3,-0.3,-0.25,-0.2,-0.15,-0.1,-0.1,-0.05,0,0,0,0,0,0,0,0],
[0,1.5,0.1,-0.6,-0.6,-0.5,-0.4,-0.3,-0.2,-0.15,-0.1,-0.05,0,0,0,0,0,0,0,0],
[0,1.0,-0.2,-0.3,-0.3,-0.3,-0.2,-0.2,-0.15,-0.1,-0.05,-0.05,0,0,0,0,0,0,0,0],
[0,0.5,0.3,0.0,-0.1,-0.1,-0.1,-0.1,-0.05,0,0,0,0,0,0,0,0,0,0,0],
[0,0.0,-0.4,-0.5,-0.4,-0.3,-0.2,-0.15,-0.1,-0.05,0,0,0,0,0,0,0,0,0,0],
[0,-0.5,-0.1,-0.2,-0.2,-0.2,-0.15,-0.1,-0.1,-0.05,0,0,0,0,0,0,0,0,0,0],
[0,-1.5,-0.5,-0.4,-0.4,-0.3,-0.25,-0.2,-0.15,-0.1,-0.05,0,0,0,0,0,0,0,0,0],
[0,-7.5,-3.2,-1.2,-0.5,-0.2,0,0,0,0,0,0,0,0,0,0,0,0,0,0],
[0,-9.0,-4.0,-1.5,-0.6,-0.2,0,0,0,0,0,0,0,0,0,0,0,0,0,0]];

// draw order per panel
const seriesSets = [
  [[outputBlue,"#0000ff"], [outputRed,"#ff0000"], [outputGray,"#808080"]],
  [[priceBlue,"#0000ff"], [priceRed,"#ff0000"], [priceGray,"#808080"]],
  [[employBlue,"#0000ff"], [employRed,"#ff0000"], [employGray,"#808080"]],
  [[inputBlue,"#0000ff"], [inputGray,"#808080"], [inputRed,"#ff0000"]],
  [[costBlue,"#0000ff"], [costRed,"#ff0000"], [costGray,"#808080"]],
  [[markupBlue,"#0000ff"], [markupGray,"#808080"], [markupRed,"#ff0000"]]];

// layout
const colX = [[65.5, 309.3], [385.7, 629.3], [707.3, 951]];
const rowY = [[38.7, 257.3], [343.2, 562]];
const yLabelOffset = [46, 42, 41, 46, 46, 43];

const svg = d3.select("#c");
const axisColor = "#262626";
const font = "'Liberation Sans', Arial, Helvetica, sans-serif";

titles.forEach((title, i) => {
  const [x0, x1] = colX[i % 3];
  const [y0, y1] = rowY[Math.floor(i / 3)];
  const x = d3.scaleLinear().domain([0, 20]).range([x0, x1]);
  const y = d3.scaleLinear().domain(yDomains[i]).range([y1, y0]);
  const g = svg.append("g");

  const clipId = "clip" + i;
  svg.append("clipPath").attr("id", clipId).append("rect")
    .attr("x", x0).attr("y", y0).attr("width", x1 - x0).attr("height", y1 - y0);

  const line = d3.line().x((d, j) => x(periods[j])).y(d => y(d));
  const plot = g.append("g").attr("clip-path", `url(#${clipId})`);
  seriesSets[i].forEach(([set, color]) => {
    plot.selectAll(null).data(set).enter().append("path")
      .attr("d", line)
      .attr("fill", "none")
      .attr("stroke", color)
      .attr("stroke-width", 2.4)
      .attr("stroke-linejoin", "round");
  });

  const styleAxis = sel => {
    sel.select(".domain").remove();
    sel.selectAll(".tick line").attr("stroke", axisColor).attr("stroke-width", 0.8);
    sel.selectAll(".tick text").attr("fill", axisColor)
      .style("font-family", font).style("font-size", "17.3px");
  };
  g.append("g").attr("transform", `translate(0,${y1})`)
    .call(d3.axisBottom(x).tickValues(xTicks).tickSizeInner(-2.5).tickSizeOuter(0).tickPadding(12))
    .call(styleAxis);
  g.append("g").attr("transform", `translate(0,${y0})`)
    .call(d3.axisTop(x).tickValues(xTicks).tickSizeInner(-2.5).tickSizeOuter(0).tickFormat(""))
    .call(styleAxis);
  g.append("g").attr("transform", `translate(${x0},0)`)
    .call(d3.axisLeft(y).tickValues(yTicks[i]).tickSizeInner(-2.5).tickSizeOuter(0).tickPadding(7))
    .call(styleAxis);
  g.append("g").attr("transform", `translate(${x1},0)`)
    .call(d3.axisRight(y).tickValues(yTicks[i]).tickSizeInner(-2.5).tickSizeOuter(0).tickFormat(""))
    .call(styleAxis);

  g.append("rect").attr("x", x0).attr("y", y0).attr("width", x1 - x0).attr("height", y1 - y0)
    .attr("fill", "none").attr("stroke", axisColor).attr("stroke-width", 1);

  g.append("text").attr("x", (x0 + x1) / 2).attr("y", y0 - 9)
    .attr("text-anchor", "middle").attr("fill", "#000")
    .style("font-family", font).style("font-size", "19.7px").style("font-weight", "bold")
    .text(title);

  g.append("text")
    .attr("transform", `translate(${x0 - yLabelOffset[i]},${(y0 + y1) / 2}) rotate(-90)`)
    .attr("text-anchor", "middle").attr("dy", "0.35em").attr("fill", axisColor)
    .style("font-family", font).style("font-size", "19.2px")
    .text(yLabels[i]);
});
</script>
</body></html>
